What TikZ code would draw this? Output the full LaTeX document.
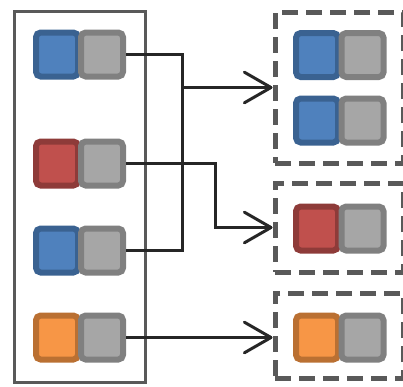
\documentclass[tikz,border=0pt]{standalone}
\usepackage{xcolor}
\usepackage{tikz}
\usetikzlibrary{arrows.meta}

\definecolor{bluefill}{HTML}{4F81BD}
\definecolor{blueline}{HTML}{3A6291}
\definecolor{redfill}{HTML}{C0504D}
\definecolor{redline}{HTML}{8E3B39}
\definecolor{orangefill}{HTML}{F79646}
\definecolor{orangeline}{HTML}{BA7032}
\definecolor{grayfill}{HTML}{A6A6A6}
\definecolor{grayline}{HTML}{808080}
\definecolor{frame}{HTML}{595959}
\definecolor{wire}{HTML}{262626}

\tikzset{
    sq/.style={draw, rounded corners=3.5pt, line width=4.5pt, inner sep=0pt,
        minimum width=31.5pt, minimum height=33pt},
    bluesq/.style={sq, fill=bluefill, draw=blueline},
    redsq/.style={sq, fill=redfill, draw=redline},
    orangesq/.style={sq, fill=orangefill, draw=orangeline},
    graysq/.style={sq, fill=grayfill, draw=grayline},
    srcbox/.style={draw=frame, line width=2.25pt, inner sep=0pt},
    group/.style={draw=frame, line width=3.75pt, dash pattern=on 12pt off 6pt,
        inner sep=0pt, minimum width=96pt},
    wireline/.style={draw=wire, line width=2.25pt}
}

\begin{document}
\begin{tikzpicture}[x=0.75pt, y=-0.75pt,
    >={Straight Barb[length=20pt, width=23pt, line join=round, line cap=round]}]
    \useasboundingbox (0,0) rectangle (403,386);

    % left column
    \node[srcbox, minimum width=97.9pt, minimum height=278.25pt] (src) at (79.75,196.5) {};
    \node[bluesq] (c1) at (57,54.5) {};
    \node[graysq] (g1) at (102,54.5) {};
    \node[redsq] (c2) at (57,163.5) {};
    \node[graysq] (g2) at (102,163.5) {};
    \node[bluesq] (c3) at (57,250.5) {};
    \node[graysq] (g3) at (102,250.5) {};
    \node[orangesq] (c4) at (57,337.5) {};
    \node[graysq] (g4) at (102,337.5) {};

    % right groups
    \node[group, minimum height=113.25pt] (grp1) at (339,87.5) {};
    \node[group, minimum height=66.75pt] (grp2) at (339,227.5) {};
    \node[group, minimum height=63.75pt] (grp3) at (339,335.5) {};

    \node[bluesq] (d1) at (317,55) {};
    \node[graysq] (h1) at (362.5,55) {};
    \node[bluesq] (d2) at (317,120.5) {};
    \node[graysq] (h2) at (362.5,120.5) {};
    \node[redsq] (d3) at (317,228.5) {};
    \node[graysq] (h3) at (362.5,228.5) {};
    \node[orangesq] (d4) at (317,337.5) {};
    \node[graysq] (h4) at (362.5,337.5) {};

    % connectors
    \coordinate (jA) at (182,87.5);
    \coordinate (jB) at (215,227.5);
    \draw[wireline] (g1.east) -| (jA) |- (g3.east);
    \draw[wireline, ->] (jA) -- (grp1.west);
    \draw[wireline, ->] (g2.east) -| (jB) -- (grp2.west);
    \draw[wireline, ->] (g4.east) -- (g4.east -| grp3.west);
\end{tikzpicture}
\end{document}
